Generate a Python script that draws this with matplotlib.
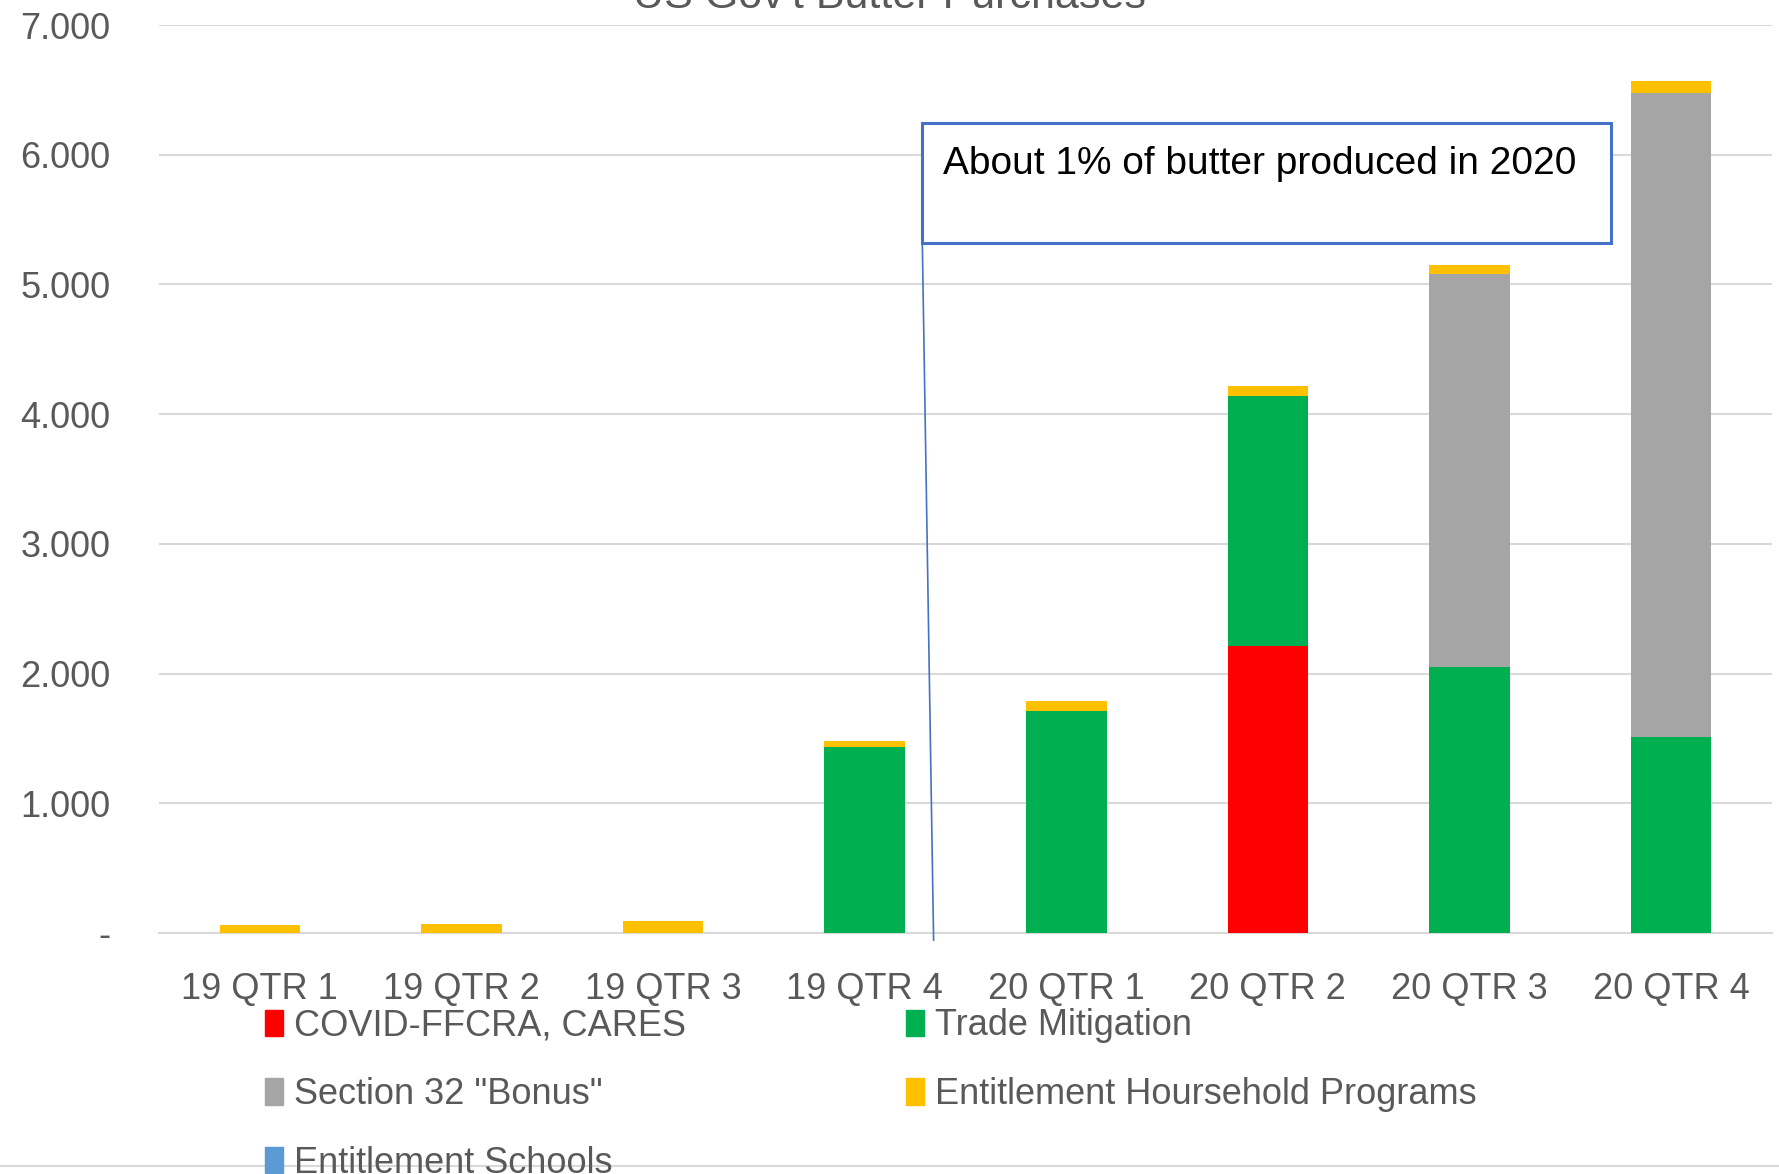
import matplotlib
matplotlib.use('Agg')
import matplotlib.pyplot as plt
from matplotlib.patches import Patch
from matplotlib.lines import Line2D
import numpy as np

plt.rcParams['font.family'] = ['Liberation Sans', 'DejaVu Sans']

# ── data (thousand lbs) ───────────────────────────────────────────────────────
quarters = ['19 QTR 1', '19 QTR 2', '19 QTR 3', '19 QTR 4',
            '20 QTR 1', '20 QTR 2', '20 QTR 3', '20 QTR 4']
covid      = [0, 0, 0, 0, 0, 2213, 0, 0]
trade      = [0, 0, 0, 1430, 1715, 1925, 2047, 1514]
section32  = [0, 0, 0, 0, 0, 0, 3036, 4960]
household  = [62, 70, 90, 51, 70, 79, 70, 96]
schools    = [0, 0, 0, 0, 0, 0, 0, 0]

series = [
    ('COVID-FFCRA, CARES', covid, '#FF0000'),
    ('Trade Mitigation', trade, '#00B050'),
    ('Section 32 "Bonus"', section32, '#A5A5A5'),
    ('Entitlement Hoursehold Programs', household, '#FFC000'),
    ('Entitlement Schools', schools, '#5B9BD5'),
]

TXT = '#595959'
FS = 26

fig = plt.figure(figsize=(17.79, 11.74), dpi=100)
ax = fig.add_axes([0.0894, 0.2053, 0.9066, 0.7734])

x = np.arange(len(quarters))
bottom = np.zeros(len(quarters))
for label, vals, color in series:
    vals = np.array(vals, dtype=float)
    ax.bar(x, vals, width=0.40, bottom=bottom, color=color, label=label, zorder=3)
    bottom += vals

ax.set_xlim(-0.5, len(quarters) - 0.5)
ax.set_ylim(0, 7000)
yt = np.arange(0, 7001, 1000)
ax.set_yticks(yt)
ax.set_yticklabels(['-'] + [f'{v // 1000}.000' for v in yt[1:]])
ax.set_xticks(x)
ax.set_xticklabels(quarters)
ax.tick_params(axis='both', length=0, colors=TXT, labelsize=FS)
ax.tick_params(axis='x', pad=28)
ax.tick_params(axis='y', pad=35)
ax.grid(axis='y', color='#D9D9D9', lw=1.5, zorder=0)
for s in ['top', 'right', 'left']:
    ax.spines[s].set_visible(False)
ax.spines['bottom'].set_color('#D9D9D9')
ax.spines['bottom'].set_linewidth(1.5)

# ── callout box ───────────────────────────────────────────────────────────────
bx0, bx1, by0, by1 = 3.286, 6.70, 5319, 6247
ax.add_patch(plt.Rectangle((bx0, by0), bx1 - bx0, by1 - by0, fill=True,
                           facecolor='white', edgecolor='#4472C4', lw=2.2,
                           zorder=5, clip_on=False))
ax.add_line(Line2D([bx0, 3.342], [by0, -55], color='#4472C4', lw=1.2,
                   zorder=5, clip_on=False))
ax.text(bx0 + 0.105, 5930, 'About 1% of butter produced in 2020',
        fontsize=28, color='black', va='center', ha='left', zorder=6)

# ── title (cut off at top, as in the original) ────────────────────────────────
fig.text(0.5, 0.993, "US Gov't Butter Purchases", ha='center', va='baseline',
         fontsize=31, color=TXT)

# ── legend ────────────────────────────────────────────────────────────────────
handles = {lab: Patch(color=c) for lab, _, c in series}
order = ['COVID-FFCRA, CARES', 'Section 32 "Bonus"', 'Entitlement Schools',
         'Trade Mitigation', 'Entitlement Hoursehold Programs']
leg = fig.legend([handles[k] for k in order], order, ncol=2,
                 loc='upper left', bbox_to_anchor=(0.149, 0.141),
                 frameon=False, fontsize=FS, labelcolor=TXT,
                 handlelength=0.5, handleheight=0.75, handletextpad=0.3,
                 labelspacing=0.93, columnspacing=6.1, borderpad=0,
                 borderaxespad=0)

fig.add_artist(Line2D([0, 1], [1 - 1166 / 1174] * 2, color='#D9D9D9', lw=1.5,
                      transform=fig.transFigure))

fig.savefig('out.png', dpi=100, facecolor='white')
